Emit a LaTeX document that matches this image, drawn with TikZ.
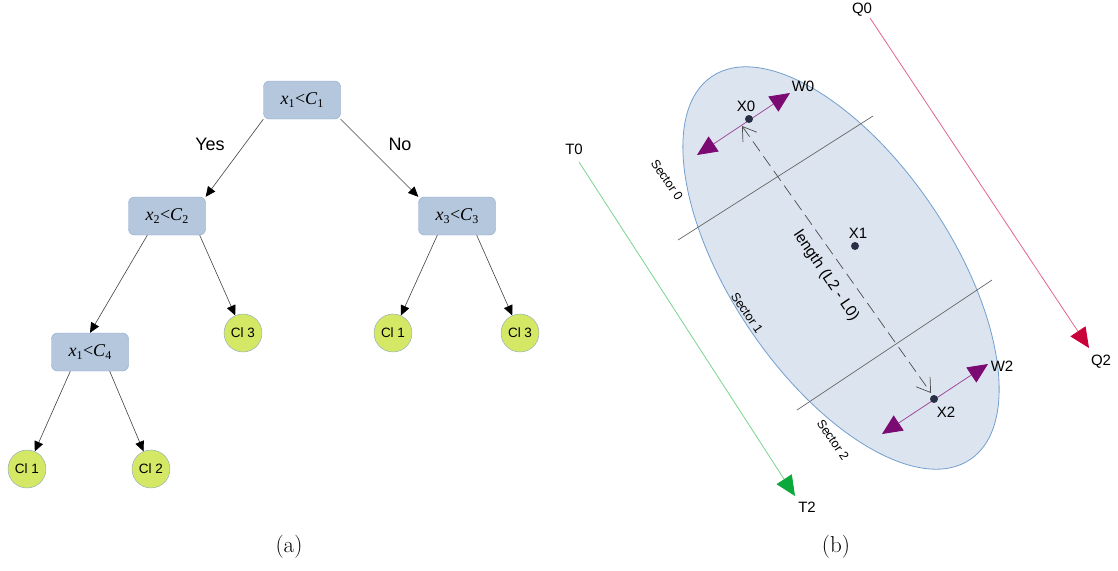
\documentclass[tikz,border=0pt]{standalone}
\usepackage{fontspec}
\newfontfamily\lsans{Liberation Sans}
\newfontfamily\lserif{Liberation Serif}
\usetikzlibrary{arrows.meta,calc}
\definecolor{boxfill}{HTML}{B4C7DC}
\definecolor{boxdraw}{HTML}{8CA6C8}
\definecolor{leaffill}{HTML}{D4E866}
\definecolor{leafdraw}{HTML}{8AA4BE}
\definecolor{ellfill}{HTML}{DCE4EF}
\definecolor{elldraw}{HTML}{729FCF}
\definecolor{purpline}{HTML}{A04A9C}
\definecolor{purphead}{HTML}{7B0A72}
\definecolor{greenline}{HTML}{77D48E}
\definecolor{greenhead}{HTML}{0BA83C}
\definecolor{redline}{HTML}{E26586}
\definecolor{redhead}{HTML}{C9003A}
\definecolor{dotcol}{HTML}{2A2F45}
\newcommand{\mysub}[1]{\raisebox{-3.5pt}{\fontsize{12}{12}\selectfont #1}}
\newcommand{\condtext}[4]{{\lserif\fontsize{18}{20}\selectfont\textit{#1}\mysub{#2}\hspace{0.5pt}<\textit{#3}\mysub{#4}}}
\begin{document}
\begin{tikzpicture}[x=1pt,y=-1pt,
  condbox/.style={draw=boxdraw,fill=boxfill,rounded corners=6pt,minimum width=77pt,minimum height=38pt,inner sep=0pt},
  leaf/.style={circle,draw=leafdraw,fill=leaffill,minimum size=38pt,inner sep=0pt,font=\lsans\fontsize{13.5}{15}\selectfont},
  treeedge/.style={draw=black!75,line width=0.6pt,-{Triangle[length=10pt,width=9pt,fill=black,color=black]}},
  lbl/.style={font=\lsans\fontsize{15}{17}\selectfont,inner sep=0pt},
  sectlbl/.style={font=\lsans\fontsize{12.5}{14}\selectfont,inner sep=0pt,rotate=-56},
  caption/.style={font=\fontsize{23}{26}\selectfont,inner sep=0pt},
  dotnode/.style={circle,fill=dotcol,minimum size=8pt,inner sep=0pt},
  sectline/.style={draw=black!60,line width=0.7pt},
  warrow/.style={draw=purpline,line width=0.8pt,{Triangle[length=20pt,width=18pt,color=purphead,fill=purphead]}-{Triangle[length=20pt,width=18pt,color=purphead,fill=purphead]}}
]
\useasboundingbox (0,0) rectangle (1118,570);
% ---------- (a) tree ----------
\node[condbox] (r) at (302,100) {\condtext{x}{1}{C}{1}};
\node[condbox] (x2) at (167,216) {\condtext{x}{2}{C}{2}};
\node[condbox] (x3) at (457,216) {\condtext{x}{3}{C}{3}};
\node[condbox] (x4) at (90,352) {\condtext{x}{1}{C}{4}};
\node[leaf] (c3a) at (243,333) {Cl 3};
\node[leaf] (c1a) at (393,333) {Cl 1};
\node[leaf] (c3b) at (520,333) {Cl 3};
\node[leaf] (c1b) at (27,469) {Cl 1};
\node[leaf] (c2) at (151,469) {Cl 2};
\node[lbl,font=\lsans\fontsize{18}{20}\selectfont] (yes) at (210,144) {Yes};
\node[lbl,font=\lsans\fontsize{18}{20}\selectfont] (no) at (400,144) {No};
\draw[treeedge] (r.south west) -- (x2.north east);
\draw[treeedge] (r.south east) -- (x3.north west);
\draw[treeedge] ($(x2.south west)+(19,0)$) -- (x4.north);
\draw[treeedge] ($(x2.south east)+(-6,0)$) -- (c3a);
\draw[treeedge] ($(x3.south west)+(19,0)$) -- (c1a);
\draw[treeedge] ($(x3.south east)+(-19,0)$) -- (c3b);
\draw[treeedge] ($(x4.south west)+(19,0)$) -- (c1b);
\draw[treeedge] ($(x4.south east)+(-19,0)$) -- (c2);
\node[caption] (capa) at (289,547) {(a)};
% ---------- (b) ----------
\draw[draw=elldraw,fill=ellfill,line width=0.8pt,rotate around={-56:(841,268)}] (841,268) ellipse (231 and 110);
\coordinate (s0a) at (678,240);
\coordinate (s0b) at (873,116);
\coordinate (s1a) at (797,410);
\coordinate (s1b) at (992,280);
\draw[sectline] (s0a) -- (s0b);
\draw[sectline] (s1a) -- (s1b);
\node[sectlbl] (sec0) at (667,180) {Sector 0};
\node[sectlbl] (sec1) at (747,313) {Sector 1};
\node[sectlbl] (sec2) at (833,440) {Sector 2};
\coordinate (d0) at (742,126);
\coordinate (d2) at (931,393);
\draw[draw=black!70,line width=0.7pt,dash pattern=on 12pt off 6pt,
  {Straight Barb[length=13pt,width=17pt,line width=0.7pt]}-{Straight Barb[length=13pt,width=17pt,line width=0.7pt]}] (d0) -- (d2);
\node[font=\lsans\fontsize{15.5}{17}\selectfont,inner sep=0pt,rotate=-56] (len) at (826,276) {length (L2 - L0)};
\coordinate (w0a) at (697,155);
\coordinate (w0b) at (790,93);
\coordinate (w2a) at (882,434);
\coordinate (w2b) at (988,364);
\draw[warrow] (w0a) -- (w0b);
\draw[warrow] (w2a) -- (w2b);
\node[dotnode] (X0) at (749,119) {};
\node[dotnode] (X1) at (855,246) {};
\node[dotnode] (X2) at (934,399) {};
\node[lbl] (lx0) at (746,106) {X0};
\node[lbl] (lx1) at (858,233) {X1};
\node[lbl] (lx2) at (946,412) {X2};
\node[lbl] (lw0) at (803,86) {W0};
\node[lbl] (lw2) at (1002,366) {W2};
% T line
\coordinate (t0) at (579,162);
\coordinate (t2) at (795,496);
\draw[draw=greenline,line width=0.8pt,-{Triangle[length=20pt,width=18pt,color=greenhead,fill=greenhead]}] (t0) -- (t2);
\node[lbl] (lt0) at (574,149) {T0};
\node[lbl] (lt2) at (807,507) {T2};
% Q line
\coordinate (q0) at (870,18);
\coordinate (q2) at (1089,348);
\draw[draw=redline,line width=0.8pt,-{Triangle[length=20pt,width=18pt,color=redhead,fill=redhead]}] (q0) -- (q2);
\node[lbl] (lq0) at (862,10) {Q0};
\node[lbl] (lq2) at (1101,362) {Q2};
\node[caption] (capb) at (836,547) {(b)};
\end{tikzpicture}
\end{document}
